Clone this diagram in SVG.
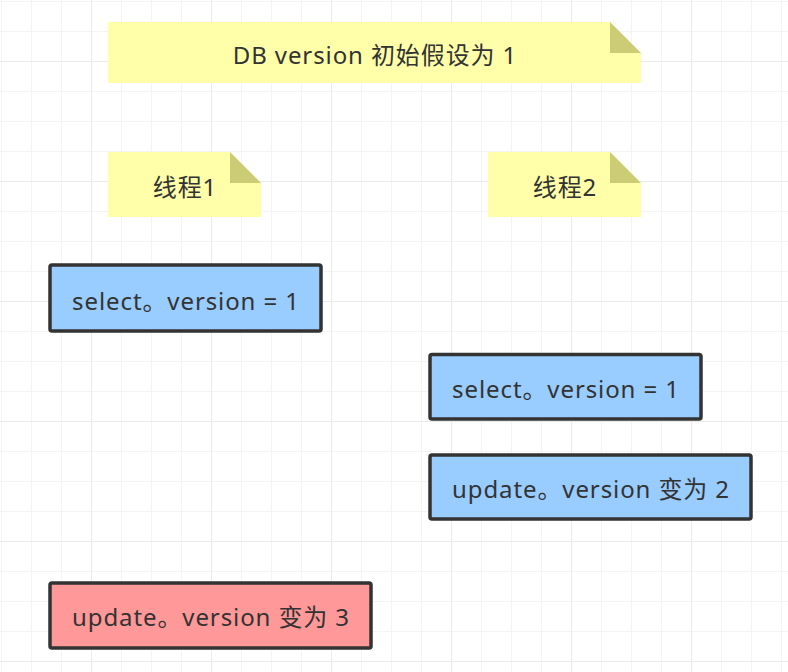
<svg xmlns="http://www.w3.org/2000/svg" width="788" height="672" viewBox="0 0 788 672">
<defs>
<pattern id="minor" x="1" y="1" width="30" height="30" patternUnits="userSpaceOnUse">
<path d="M0 0.5H30M0.5 0V30" fill="none" stroke="#f4f4f4" stroke-width="1"/>
</pattern>
<pattern id="major" x="91" y="61" width="120" height="120" patternUnits="userSpaceOnUse">
<path d="M0 0.5H120M0.5 0V120" fill="none" stroke="#eaeaea" stroke-width="1"/>
</pattern>
</defs>
<style>
.note{fill:#ffffaa}
.fold{fill:#cccc77}
.box{stroke:#333333;stroke-width:3.5}
.blue{fill:#99ccff}
.red{fill:#ff9999}
text{font-family:"Noto Sans","Noto Sans CJK SC",sans-serif;font-size:24px;letter-spacing:0.9px;fill:#333333;text-anchor:middle}
</style>
<rect width="788" height="672" fill="#ffffff"/>
<rect width="788" height="672" fill="url(#minor)"/>
<rect width="788" height="672" fill="url(#major)"/>
<g id="note-db">
<path class="note" d="M108 22H610L641 53V83H108Z"/>
<path class="fold" d="M610 22L641 53H610Z"/>
<text x="375" y="64">DB version 初始假设为 1</text>
</g>
<g id="note-t1">
<path class="note" d="M108 152H230L261 183V217H108Z"/>
<path class="fold" d="M230 152L261 183H230Z"/>
<text x="185" y="196">线程1</text>
</g>
<g id="note-t2">
<path class="note" d="M488 152H610L641 183V217H488Z"/>
<path class="fold" d="M610 152L641 183H610Z"/>
<text x="565" y="196">线程2</text>
</g>
<g id="t1-select">
<rect class="box blue" x="50" y="265" width="271" height="66" rx="2"/>
<text x="186" y="310">select。version = 1</text>
</g>
<g id="t2-select">
<rect class="box blue" x="430" y="354.5" width="271" height="64.5" rx="2"/>
<text x="566" y="398">select。version = 1</text>
</g>
<g id="t2-update">
<rect class="box blue" x="430" y="455" width="321" height="64" rx="2"/>
<text x="591" y="498">update。version 变为 2</text>
</g>
<g id="t1-update">
<rect class="box red" x="50" y="583" width="321" height="65" rx="2"/>
<text x="211" y="626">update。version 变为 3</text>
</g>
<g id="connectors"/>
</svg>
